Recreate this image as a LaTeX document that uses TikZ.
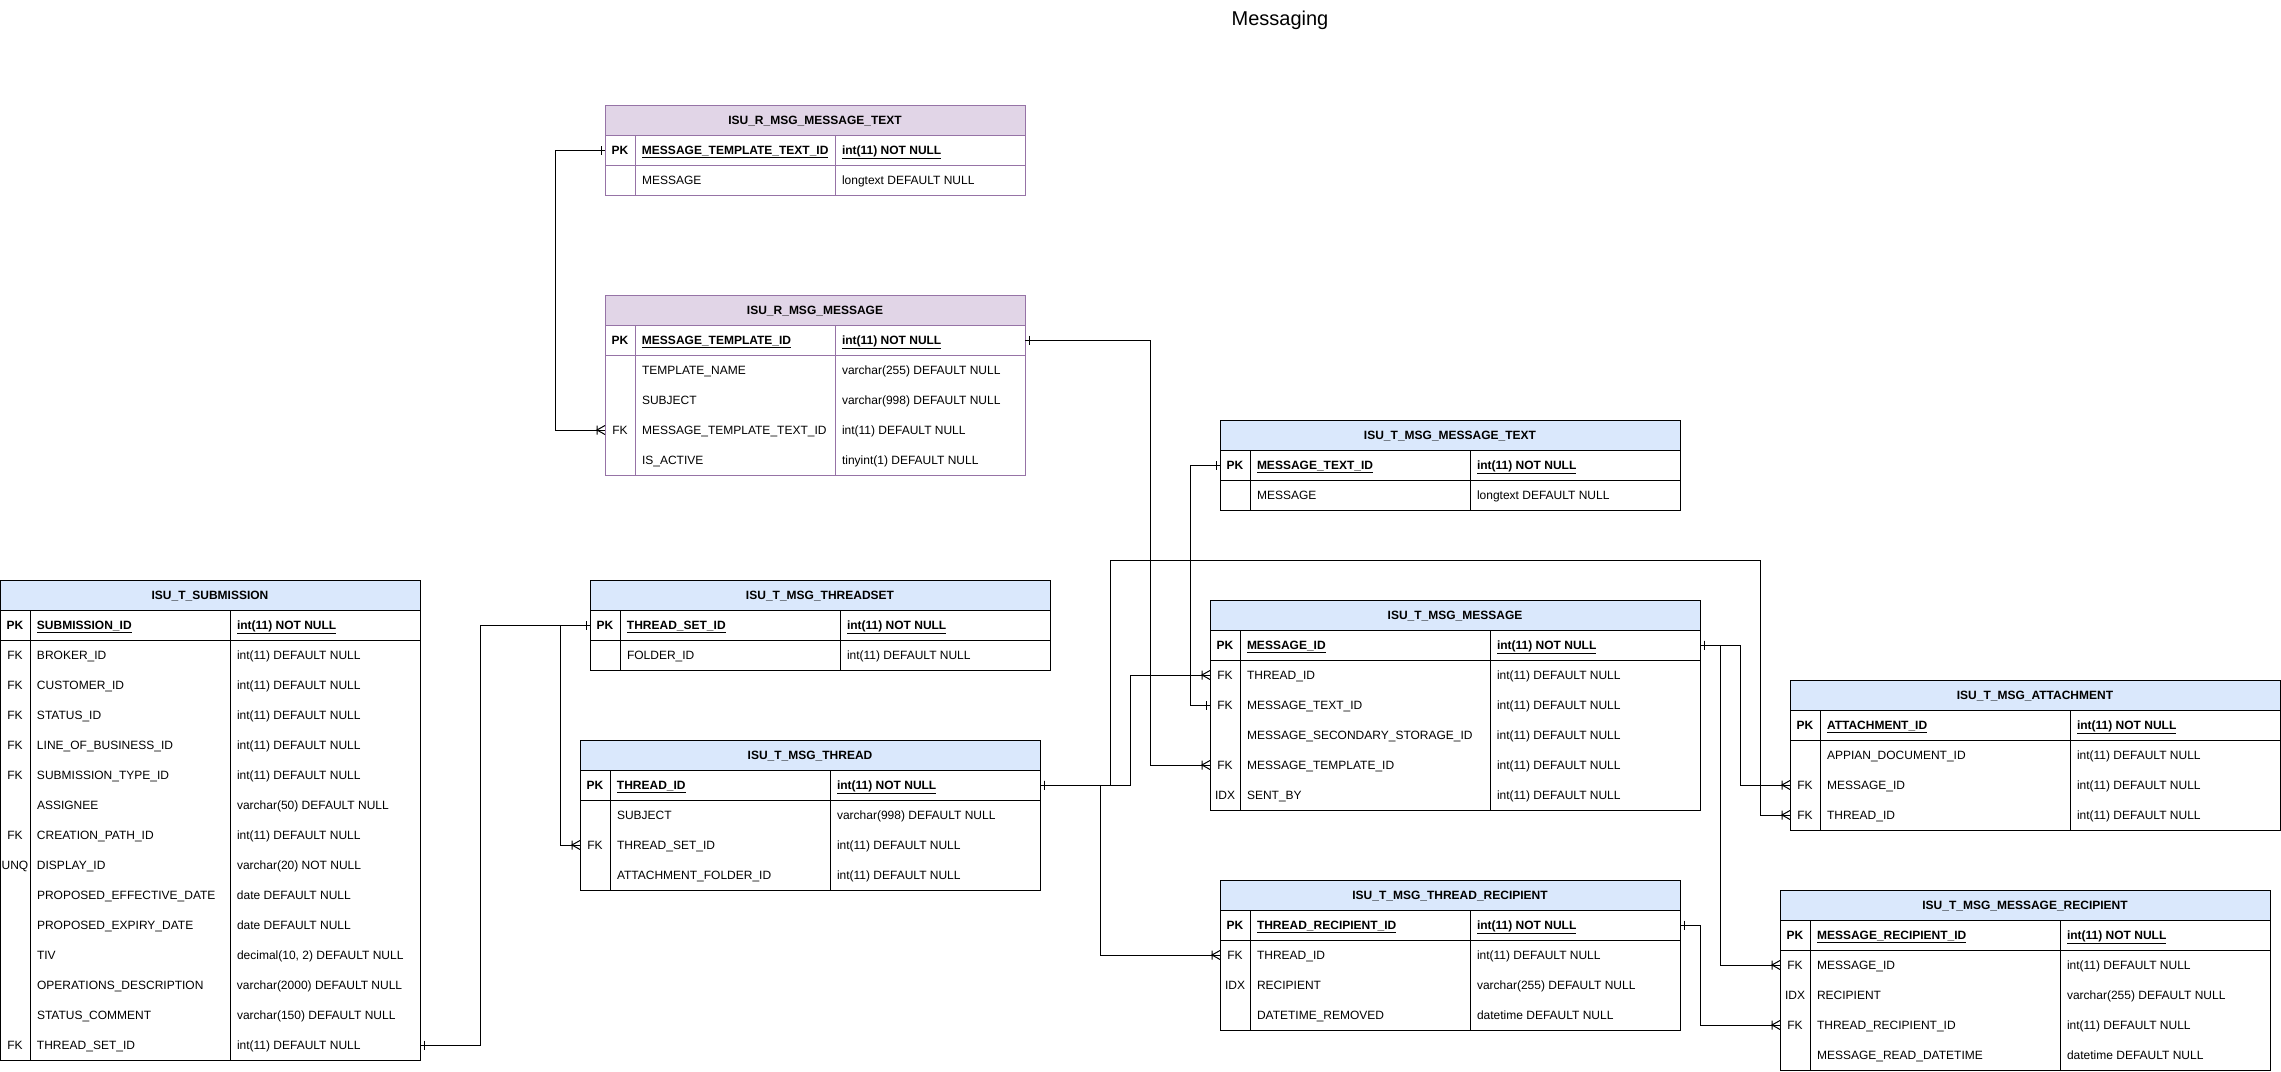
\documentclass[tikz,border=0pt]{standalone}
\usepackage{fontspec}
\setmainfont{Liberation Sans}
\usetikzlibrary{calc}
\definecolor{hdrblue}{HTML}{DAE8FC}
\definecolor{hdrpurple}{HTML}{E1D5E7}
\definecolor{rline}{HTML}{9673A6}

% one / many ends of a relation
\pgfdeclarearrow{
  name = erone,
  setup code = {
    \pgfarrowssettipend{0pt}
    \pgfarrowssetlineend{0pt}
    \pgfarrowssetbackend{-5pt}
    \pgfarrowssetvisualbackend{-5pt}
    \pgfarrowsupperhullpoint{-4pt}{4.5pt}
    \pgfarrowsupperhullpoint{0pt}{0pt}
  },
  drawing code = {
    \pgfpathmoveto{\pgfqpoint{-4pt}{-4.5pt}}
    \pgfpathlineto{\pgfqpoint{-4pt}{4.5pt}}
    \pgfusepathqstroke
  },
}
\pgfdeclarearrow{
  name = ermany,
  setup code = {
    \pgfarrowssettipend{0pt}
    \pgfarrowssetlineend{0pt}
    \pgfarrowssetbackend{-9pt}
    \pgfarrowssetvisualbackend{-9pt}
    \pgfarrowsupperhullpoint{-8pt}{4.5pt}
    \pgfarrowsupperhullpoint{0pt}{4.5pt}
  },
  drawing code = {
    \pgfpathmoveto{\pgfqpoint{0pt}{4.5pt}}
    \pgfpathlineto{\pgfqpoint{-8pt}{0pt}}
    \pgfpathlineto{\pgfqpoint{0pt}{-4.5pt}}
    \pgfpathmoveto{\pgfqpoint{-8pt}{4.5pt}}
    \pgfpathlineto{\pgfqpoint{-8pt}{-4.5pt}}
    \pgfusepathqstroke
  },
}

\tikzset{
  row/.style={inner sep=0pt, outer sep=0pt, minimum height=30pt, anchor=north west,
    text height=9pt, text depth=0.4pt, font=\fontsize{12}{14}\selectfont},
  head/.style={row, font=\fontsize{12}{14}\selectfont\bfseries},
  ttab/.style={draw=black},
  ttab head/.style={fill=hdrblue},
  rtab/.style={draw=rline},
  rtab head/.style={fill=hdrpurple},
  rel/.style={draw=black, line width=1pt},
}

% #1 name, #2 look, #3,#4 top left, #5,#6,#7 column widths, #8 title, #9 rows
\newcommand{\dbtable}[9]{%
  \pgfmathsetmacro\tabw{#5+#6+#7}
  \node[head, #2, #2 head, minimum width=\tabw pt] (#1) at (#3,#4) {#8};
  \foreach \fk/\fname/\ftype [count=\rowno] in {#9}{
    \ifnum\rowno=1 % key row
      \node[row, minimum width=\tabw pt] (#1-\rowno) at (#3,#4+30*\rowno)
        {\bfseries\makebox[#5pt]{\fk}\makebox[#6pt][l]{\hspace{7pt}\underline{\fname}}\makebox[#7pt][l]{\hspace{7pt}\underline{\ftype}}};
    \else
      \node[row, minimum width=\tabw pt] (#1-\rowno) at (#3,#4+30*\rowno)
        {\makebox[#5pt]{\fk}\makebox[#6pt][l]{\hspace{7pt}\fname}\makebox[#7pt][l]{\hspace{7pt}\ftype}};
    \fi
    \xdef\nrows{\rowno}
  }
  \draw[#2] (#1.north west) rectangle (#1-\nrows.south east);
  \draw[#2] (#3+#5,#4+30) -- (#3+#5,#4+30+30*\nrows)
            (#3+#5+#6,#4+30) -- (#3+#5+#6,#4+30+30*\nrows)
            (#3,#4+60) -- (#3+\tabw,#4+60);
}

\begin{document}
\catcode`\_=12
\begin{tikzpicture}[x=1pt,y=-1pt,line width=1pt]
  \useasboundingbox (0,0) rectangle (2281,1071);
  \coordinate (AttachBend) at (1760,560);

  \node[font=\fontsize{20}{24}\selectfont] (title) at (1280,20) {Messaging};

  % reference tables
  \dbtable{rtext}{rtab}{605}{105}{30}{200}{190}{ISU_R_MSG_MESSAGE_TEXT}{
    PK/MESSAGE_TEMPLATE_TEXT_ID/int(11) NOT NULL,
    /MESSAGE/longtext DEFAULT NULL}
  \dbtable{rmsg}{rtab}{605}{295}{30}{200}{190}{ISU_R_MSG_MESSAGE}{
    PK/MESSAGE_TEMPLATE_ID/int(11) NOT NULL,
    /TEMPLATE_NAME/varchar(255) DEFAULT NULL,
    /SUBJECT/varchar(998) DEFAULT NULL,
    FK/MESSAGE_TEMPLATE_TEXT_ID/int(11) DEFAULT NULL,
    /IS_ACTIVE/tinyint(1) DEFAULT NULL}

  % transaction tables
  \dbtable{submission}{ttab}{0}{580}{30}{200}{190}{ISU_T_SUBMISSION}{
    PK/SUBMISSION_ID/int(11) NOT NULL,
    FK/BROKER_ID/int(11) DEFAULT NULL,
    FK/CUSTOMER_ID/int(11) DEFAULT NULL,
    FK/STATUS_ID/int(11) DEFAULT NULL,
    FK/LINE_OF_BUSINESS_ID/int(11) DEFAULT NULL,
    FK/SUBMISSION_TYPE_ID/int(11) DEFAULT NULL,
    /ASSIGNEE/varchar(50) DEFAULT NULL,
    FK/CREATION_PATH_ID/int(11) DEFAULT NULL,
    UNQ/DISPLAY_ID/varchar(20) NOT NULL,
    /PROPOSED_EFFECTIVE_DATE/date DEFAULT NULL,
    /PROPOSED_EXPIRY_DATE/date DEFAULT NULL,
    /TIV/{decimal(10, 2) DEFAULT NULL},
    /OPERATIONS_DESCRIPTION/varchar(2000) DEFAULT NULL,
    /STATUS_COMMENT/varchar(150) DEFAULT NULL,
    FK/THREAD_SET_ID/int(11) DEFAULT NULL}
  \dbtable{threadset}{ttab}{590}{580}{30}{220}{210}{ISU_T_MSG_THREADSET}{
    PK/THREAD_SET_ID/int(11) NOT NULL,
    /FOLDER_ID/int(11) DEFAULT NULL}
  \dbtable{thread}{ttab}{580}{740}{30}{220}{210}{ISU_T_MSG_THREAD}{
    PK/THREAD_ID/int(11) NOT NULL,
    /SUBJECT/varchar(998) DEFAULT NULL,
    FK/THREAD_SET_ID/int(11) DEFAULT NULL,
    /ATTACHMENT_FOLDER_ID/int(11) DEFAULT NULL}
  \dbtable{ttext}{ttab}{1220}{420}{30}{220}{210}{ISU_T_MSG_MESSAGE_TEXT}{
    PK/MESSAGE_TEXT_ID/int(11) NOT NULL,
    /MESSAGE/longtext DEFAULT NULL}
  \dbtable{message}{ttab}{1210}{600}{30}{250}{210}{ISU_T_MSG_MESSAGE}{
    PK/MESSAGE_ID/int(11) NOT NULL,
    FK/THREAD_ID/int(11) DEFAULT NULL,
    FK/MESSAGE_TEXT_ID/int(11) DEFAULT NULL,
    /MESSAGE_SECONDARY_STORAGE_ID/int(11) DEFAULT NULL,
    FK/MESSAGE_TEMPLATE_ID/int(11) DEFAULT NULL,
    IDX/SENT_BY/int(11) DEFAULT NULL}
  \dbtable{threadrcp}{ttab}{1220}{880}{30}{220}{210}{ISU_T_MSG_THREAD_RECIPIENT}{
    PK/THREAD_RECIPIENT_ID/int(11) NOT NULL,
    FK/THREAD_ID/int(11) DEFAULT NULL,
    IDX/RECIPIENT/varchar(255) DEFAULT NULL,
    /DATETIME_REMOVED/datetime DEFAULT NULL}
  \dbtable{attach}{ttab}{1790}{680}{30}{250}{210}{ISU_T_MSG_ATTACHMENT}{
    PK/ATTACHMENT_ID/int(11) NOT NULL,
    /APPIAN_DOCUMENT_ID/int(11) DEFAULT NULL,
    FK/MESSAGE_ID/int(11) DEFAULT NULL,
    FK/THREAD_ID/int(11) DEFAULT NULL}
  \dbtable{msgrcp}{ttab}{1780}{890}{30}{250}{210}{ISU_T_MSG_MESSAGE_RECIPIENT}{
    PK/MESSAGE_RECIPIENT_ID/int(11) NOT NULL,
    FK/MESSAGE_ID/int(11) DEFAULT NULL,
    IDX/RECIPIENT/varchar(255) DEFAULT NULL,
    FK/THREAD_RECIPIENT_ID/int(11) DEFAULT NULL,
    /MESSAGE_READ_DATETIME/datetime DEFAULT NULL}

  % relations
  \draw[rel,erone-ermany] (rtext-1.west) -- ++(-50,0) |- (rmsg-4.west);
  \draw[rel,erone-ermany] (rmsg-1.east) -- ++(125,0) |- (message-5.west);
  \draw[rel,erone-erone] (ttext-1.west) -- ++(-30,0) |- (message-3.west);
  \draw[rel,erone-erone] (submission-15.east) -- ++(60,0) |- (threadset-1.west);
  \draw[rel,erone-ermany] (threadset-1.west) -- ++(-30,0) |- (thread-3.west);
  \draw[rel,erone-ermany] (thread-1.east) -- ++(90,0) |- (message-2.west);
  \draw[rel,erone-ermany] (thread-1.east) -- ++(70,0) |- (AttachBend) |- (attach-4.west);% over the top
  \draw[rel,erone-ermany] (thread-1.east) -- ++(60,0) |- (threadrcp-2.west);
  \draw[rel,erone-ermany] (message-1.east) -- ++(40,0) |- (attach-3.west);
  \draw[rel,erone-ermany] (message-1.east) -- ++(20,0) |- (msgrcp-2.west);
  \draw[rel,erone-ermany] (threadrcp-1.east) -- ++(20,0) |- (msgrcp-4.west);
\end{tikzpicture}
\end{document}
